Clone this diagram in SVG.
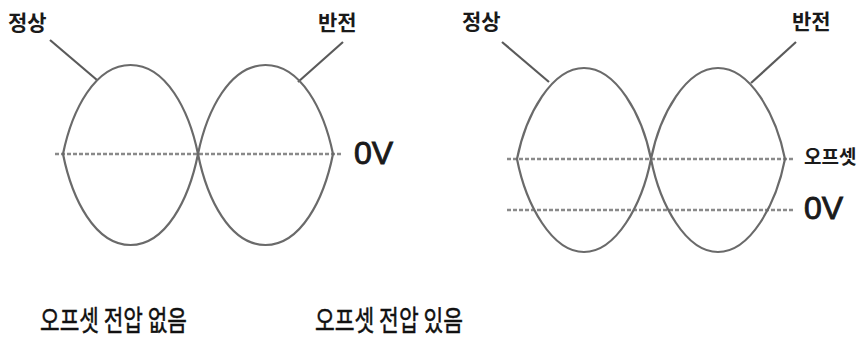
<svg xmlns="http://www.w3.org/2000/svg" width="868" height="341" viewBox="0 0 868 341">
<style>
.wave{fill:none;stroke:#6a6a6a;stroke-width:2.2}
.lead{fill:none;stroke:#5a5a5a;stroke-width:2.2}
.dot{fill:none;stroke:#8a8a8a;stroke-width:2.6;stroke-dasharray:4 2}
.lbl{font-family:"Noto Sans CJK KR","Noto Sans",sans-serif;font-weight:bold;fill:#1a1a1a}
.v{font-family:"Liberation Sans","Noto Sans",sans-serif;font-size:32px;fill:#1a1a1a;stroke:#1a1a1a;stroke-width:0.9}
.cap{font-family:"Noto Sans CJK KR","Noto Sans",sans-serif;font-size:28.5px;fill:#111;stroke:#111;stroke-width:0.5}
</style>
<rect width="868" height="341" fill="#fff"/>
<g id="connectors">
<line class="dot" x1="55" y1="154" x2="342" y2="154"/>
<line class="lead" x1="50" y1="40" x2="97" y2="80"/>
<line class="lead" x1="343" y1="42" x2="298" y2="82"/>
<line class="dot" x1="507" y1="159" x2="794" y2="159"/>
<line class="dot" x1="507" y1="210" x2="794" y2="210"/>
<line class="lead" x1="502" y1="42" x2="549" y2="82"/>
<line class="lead" x1="796" y1="42" x2="751" y2="83"/>
</g>
<g id="left-wave">
<path class="wave" d="M63,154 C72,110 95,65 130.5,65 C166,65 189,110 198,154 C189,199 166,245 130.5,245 C95,245 72,199 63,154 Z"/>
<path class="wave" d="M198,154 C207,110 230,65 265.5,65 C301,65 324,110 333,154 C324,199 301,245 265.5,245 C230,245 207,199 198,154 Z"/>
</g>
<g id="right-wave">
<path class="wave" d="M517,159 C526,114 552,68 584,68 C616,68 642,114 651,159 C642,205 616,252 584,252 C552,252 526,205 517,159 Z"/>
<path class="wave" d="M651,159 C660,114 686,68 718,68 C750,68 776,114 785,159 C776,205 750,252 718,252 C686,252 660,205 651,159 Z"/>
</g>
<g id="left-labels">
<text class="lbl" x="8" y="30" font-size="21">정상</text>
<text class="lbl" x="318" y="30" font-size="21">반전</text>
<text class="v" x="354" y="164">0V</text>
<text class="cap" x="40" y="331" textLength="147" lengthAdjust="spacingAndGlyphs">오프셋 전압 없음</text>
</g>
<g id="right-labels">
<text class="lbl" x="462" y="29" font-size="21">정상</text>
<text class="lbl" x="792" y="29" font-size="21">반전</text>
<text class="lbl" x="804" y="164" font-size="19">오프셋</text>
<text class="v" x="804" y="219">0V</text>
<text class="cap" x="315" y="331" textLength="148" lengthAdjust="spacingAndGlyphs">오프셋 전압 있음</text>
</g>
</svg>
